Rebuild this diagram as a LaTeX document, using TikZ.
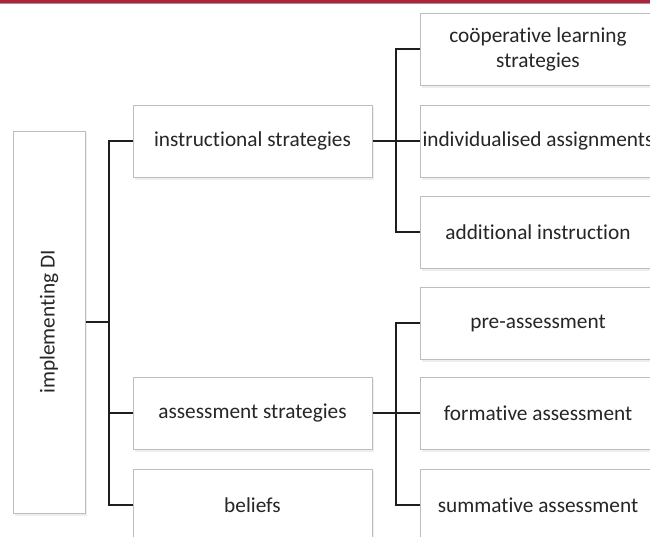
\documentclass[tikz,border=0pt]{standalone}
\usepackage{fontspec}
\setmainfont{Carlito}[RawFeature={-liga;-clig;-dlig}]
\definecolor{boxgray}{HTML}{BDBDBD}
\definecolor{shadowgray}{HTML}{EEEEEE}
\definecolor{txtgray}{HTML}{262626}
\definecolor{linecol}{HTML}{1E1E1E}
\definecolor{topred}{HTML}{B3203A}
\definecolor{topgray}{HTML}{9A9A9A}
\begin{document}
\begin{tikzpicture}[x=1pt,y=-1pt,
  box/.style={draw=boxgray, line width=1pt, fill=white, minimum width=#1,
    minimum height=72pt, inner sep=0pt, text=txtgray, align=center,
    font=\fontsize{21.3}{25}\selectfont},
  box/.default=239pt,
  link/.style={draw=linecol, line width=1.6pt}]
\clip (0,0) rectangle (650,536);
\fill[white] (0,0) rectangle (650,536);
% top band
\fill[topred] (0,0) rectangle (650,3.2);
\draw[topgray, line width=0.8pt] (0,3.8) -- (650,3.8);
% shadows
\foreach \cx/\cy/\w/\h in {49/322/72/382, 252.5/141/239/72, 252.5/413/239/72, 252.5/505/239/72,
  538/49/236/72, 538/141/236/72, 538/232/236/72, 538/323/236/72, 538/413/236/72, 538/505/236/72}
  \fill[shadowgray] (\cx-\w/2+2,\cy-\h/2+2) rectangle (\cx+\w/2+2,\cy+\h/2+2.5);
% root
\node[box, minimum width=382pt, rotate=90] (root) at (49,322) {implementing DI};
% level 1
\node[box] (ins) at (252.5,141) {instructional strategies};
\node[box] (ass) at (252.5,413) {assessment strategies};
\node[box] (bel) at (252.5,505) {beliefs};
% level 2
\node[box=236pt] (coop) at (538,49) {coöperative learning\\strategies};
\node[box=236pt] (ind) at (538,141) {individualised assignments};
\node[box=236pt] (add) at (538,232) {additional instruction};
\node[box=236pt] (pre) at (538,323) {pre-assessment};
\node[box=236pt] (form) at (538,413) {formative assessment};
\node[box=236pt] (sum) at (538,505) {summative assessment};
% connectors
\coordinate (t) at (109,322);
\coordinate (u) at (396,0);
\draw[link] (root.south) -- (t);
\draw[link] (ins.west) -- (ins.west -| t) -- (bel.west -| t) -- (bel.west);
\draw[link] (ass.west) -- (ass.west -| t);
\draw[link] (ins.east) -- (ins.east -| u);
\draw[link] (coop.west) -- (coop.west -| u) -- (add.west -| u) -- (add.west);
\draw[link] (ind.west) -- (ind.west -| u);
\draw[link] (ass.east) -- (ass.east -| u);
\draw[link] (pre.west) -- (pre.west -| u) -- (sum.west -| u) -- (sum.west);
\draw[link] (form.west) -- (form.west -| u);
\end{tikzpicture}
\end{document}
